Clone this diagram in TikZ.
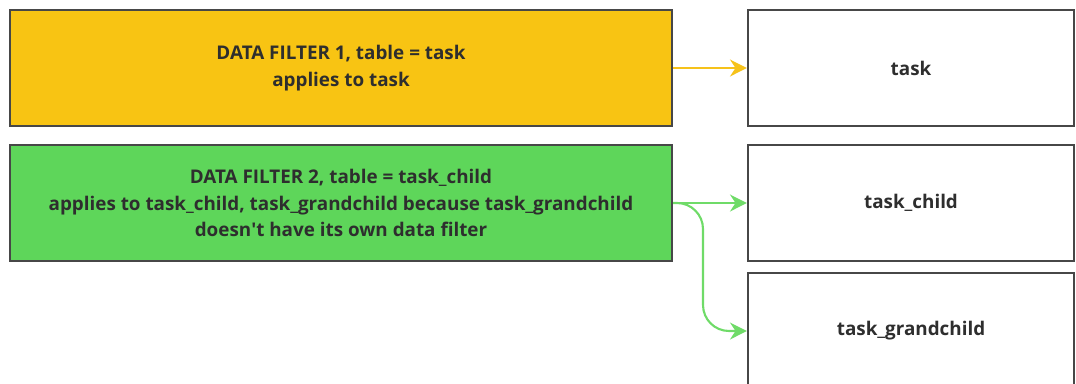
\documentclass[tikz,border=0pt]{standalone}
\usepackage{fontspec}
\setmainfont{Open Sans}
\usetikzlibrary{arrows.meta}
\definecolor{filteryellow}{HTML}{F8C413}
\definecolor{filtergreen}{HTML}{5ED65A}
\definecolor{arrowyellow}{HTML}{F6C21A}
\definecolor{arrowgreen}{HTML}{6FDB68}
\definecolor{boxline}{HTML}{474747}
\definecolor{boxtext}{HTML}{2E2E2E}
\tikzset{
  filterbox/.style={draw=boxline, line width=1.5pt, minimum width=16.55cm, minimum height=2.9cm,
    align=center, text=boxtext, font=\fontsize{13.4}{18.8}\selectfont\bfseries},
  tablebox/.style={draw=boxline, line width=1.5pt, fill=white, minimum width=8.15cm, minimum height=2.9cm,
    text=boxtext, font=\fontsize{13.4}{18.8}\selectfont\bfseries},
  flow/.style={line width=1.5pt, -{Stealth[length=12pt,width=12pt]}}
}
\begin{document}
\begin{tikzpicture}[x=0.025cm, y=-0.025cm]
  \useasboundingbox (0,0) rectangle (1076,383);
  \clip (0,0) rectangle (1076,383);
  % filters on the left
  \node[filterbox, fill=filteryellow] (filter1) at (341,68) {DATA FILTER 1, table = task\\applies to task};
  \node[filterbox, fill=filtergreen] (filter2) at (341,203) {DATA FILTER 2, table = task\_child\\applies to task\_child, task\_grandchild because task\_grandchild\\doesn\textquotesingle t have its own data filter};
  % tables on the right
  \node[tablebox] (task) at (911,68) {task};
  \node[tablebox] (child) at (911,203) {task\_child};
  \node[tablebox] (grandchild) at (911,331) {task\_grandchild};
  \coordinate (bend) at (703,203);
  % arrows
  \draw[flow, arrowyellow] (filter1) -- (task);
  \draw[flow, arrowgreen] (filter2) -- (child);
  \draw[flow, arrowgreen, rounded corners=0.65cm] (filter2.east) -- (bend) |- (grandchild.west);
\end{tikzpicture}
\end{document}
